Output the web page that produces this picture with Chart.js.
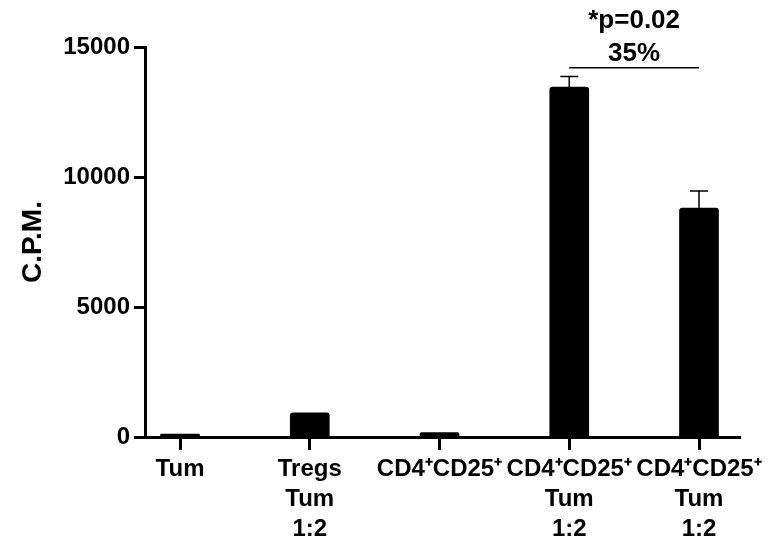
<!DOCTYPE html>
<html>
<head>
<meta charset="utf-8">
<script src="https://cdn.jsdelivr.net/npm/chart.js@4/dist/chart.umd.min.js"></script>
<style>
  body { margin: 0; background: #fff; }
  #wrap { width: 770px; height: 545px; }
</style>
</head>
<body>
<div id="wrap"><canvas id="cpmChart" width="770" height="545"></canvas></div>
<script>
// categories (multi-line tick labels)
const categories = [
    ['Tum'],
    ['Tregs', 'Tum', '1:2'],
    ['CD4\u207ACD25\u207A'],
    ['CD4\u207ACD25\u207A', 'Tum', '1:2'],
    ['CD4\u207ACD25\u207A', 'Tum', '1:2']
];
// mean C.P.M. and error (upper SEM)
const cpmValues = [110, 930, 170, 13460, 8800];
const cpmErrors = [0, 0, 0, 410, 660];
const yTicks = [0, 5000, 10000, 15000];
// significance bracket between bar 4 and 5
const sigPair = [3, 4];
const sigValue = 14200;
const sigText = ['*p=0.02', '35%'];

const FONT = '"Liberation Sans", Arial, sans-serif';

// error bars drawn from the data through the scales
const errorBars = {
    id: 'errorBars',
    afterDatasetsDraw(chart) {
        const ctx = chart.ctx;
        const x = chart.scales.x;
        const y = chart.scales.y;
        ctx.save();
        ctx.strokeStyle = '#000';
        ctx.lineWidth = 1.5;
        for (let i = 0; i < cpmValues.length; i++) {
            if (!cpmErrors[i]) continue;
            const px = x.getPixelForValue(i);
            const yTop = y.getPixelForValue(cpmValues[i]);
            const yErr = y.getPixelForValue(cpmValues[i] + cpmErrors[i]);
            ctx.beginPath();
            ctx.moveTo(px, yTop);
            ctx.lineTo(px, yErr);
            ctx.moveTo(px - 9, yErr);
            ctx.lineTo(px + 9, yErr);
            ctx.stroke();
        }
        ctx.restore();
    }
};

// significance line and text
const sigLabel = {
    id: 'sigLabel',
    afterDraw(chart) {
        const ctx = chart.ctx;
        const x = chart.scales.x;
        const y = chart.scales.y;
        const x1 = x.getPixelForValue(sigPair[0]);
        const x2 = x.getPixelForValue(sigPair[1]);
        const py = y.getPixelForValue(sigValue);
        ctx.save();
        ctx.strokeStyle = '#000';
        ctx.lineWidth = 1.5;
        ctx.beginPath();
        ctx.moveTo(x1, py);
        ctx.lineTo(x2, py);
        ctx.stroke();
        ctx.fillStyle = '#000';
        ctx.font = 'bold 26px ' + FONT;
        ctx.textAlign = 'center';
        ctx.textBaseline = 'alphabetic';
        ctx.fillText(sigText[0], (x1 + x2) / 2, py - 40);
        ctx.fillText(sigText[1], (x1 + x2) / 2, py - 7);
        ctx.restore();
    }
};

new Chart(document.getElementById('cpmChart'), {
    type: 'bar',
    data: {
        datasets: [{
            data: cpmValues.map(function (v, i) { return { x: i, y: v }; }),
            backgroundColor: '#000',
            borderColor: '#000',
            borderWidth: 0,
            borderRadius: 3,
            borderSkipped: 'start',
            barThickness: 39
        }]
    },
    options: {
        responsive: false,
        animation: false,
        layout: { padding: { top: 47, right: 30, left: 0, bottom: 0 } },
        plugins: {
            legend: { display: false },
            tooltip: { enabled: false }
        },
        scales: {
            x: {
                type: 'linear',
                offset: false,
                min: -0.27,
                max: 4.316,
                afterFit: function (scale) { scale.height = 108; },
                border: { display: true, color: '#000', width: 3 },
                grid: { display: true, offset: false, drawOnChartArea: false, drawTicks: true, tickLength: 13, tickWidth: 3, color: '#000' },
                ticks: {
                    stepSize: 1,
                    includeBounds: false,
                    autoSkip: false,
                    maxRotation: 0,
                    padding: 4,
                    color: '#000',
                    font: { family: FONT, size: 24, weight: 'bold', lineHeight: 1.25 },
                    callback: function (value) {
                        return Number.isInteger(value) ? categories[value] : '';
                    }
                }
            },
            y: {
                min: 0,
                max: 15000,
                afterFit: function (scale) { scale.width = 145; },
                afterBuildTicks: function (scale) {
                    scale.ticks = yTicks.map(function (v) { return { value: v }; });
                },
                border: { display: true, color: '#000', width: 3 },
                grid: { display: true, drawOnChartArea: false, drawTicks: true, tickLength: 11, tickWidth: 3, color: '#000' },
                ticks: {
                    padding: 4,
                    color: '#000',
                    font: { family: FONT, size: 24, weight: 'bold' },
                    callback: function (value) { return String(value); }
                },
                title: {
                    display: true,
                    text: 'C.P.M.',
                    color: '#000',
                    padding: { top: 16, bottom: 0 },
                    font: { family: FONT, size: 28, weight: 'bold' }
                }
            }
        }
    },
    plugins: [errorBars, sigLabel]
});
</script>
</body>
</html>
